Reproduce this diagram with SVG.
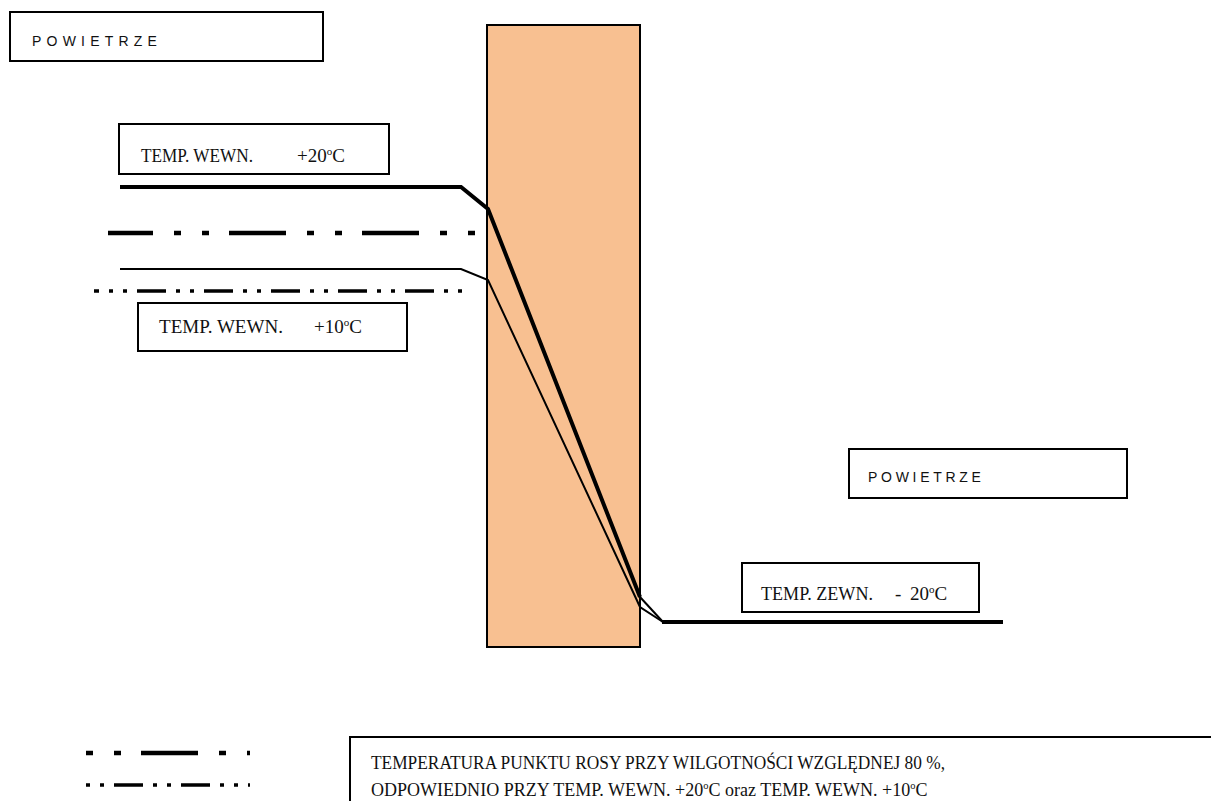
<svg xmlns="http://www.w3.org/2000/svg" width="1211" height="801" viewBox="0 0 1211 801">
<style>
.box{fill:#fff;stroke:#000;stroke-width:2}
.sans{font-family:"Liberation Sans",Arial,sans-serif;font-size:14px;fill:#111}
.serif{font-family:"Liberation Serif","Times New Roman",serif;font-size:19px;fill:#111}
.sup{font-size:11px}
.thick{fill:none;stroke:#000;stroke-width:4}
.thin{fill:none;stroke:#000;stroke-width:2}
.dashA{fill:none;stroke:#000;stroke-width:4.5;stroke-dasharray:57 21 7 21 7 20}
.dashB{fill:none;stroke:#000;stroke-width:3.5;stroke-dasharray:29 10 4 10 4 10}
</style>
<rect width="1211" height="801" fill="#fff"/>
<g id="wall">
<rect x="487" y="25" width="153" height="622" fill="#F8C091" stroke="#000" stroke-width="2"/>
</g>
<g id="air-inside">
<rect class="box" x="10" y="12" width="313" height="49"/>
<text class="sans" x="32" y="45.5" letter-spacing="5.2">POWIETRZE</text>
</g>
<g id="air-outside">
<rect class="box" x="849" y="449" width="278" height="49"/>
<text class="sans" x="868" y="482" letter-spacing="3.7">POWIETRZE</text>
</g>
<g id="temp-in-20">
<rect class="box" x="119" y="124" width="270" height="50"/>
<text class="serif" x="141" y="162" textLength="112" lengthAdjust="spacingAndGlyphs">TEMP. WEWN.</text>
<text class="serif" x="297" y="162" font-size="20">+20<tspan class="sup" dy="-7">o</tspan><tspan dy="7">C</tspan></text>
</g>
<g id="temp-in-10">
<rect class="box" x="138" y="303" width="269" height="48"/>
<text class="serif" x="159" y="333" textLength="124" lengthAdjust="spacingAndGlyphs">TEMP. WEWN.</text>
<text class="serif" x="314" y="333" font-size="20">+10<tspan class="sup" dy="-7">o</tspan><tspan dy="7">C</tspan></text>
</g>
<g id="temp-out">
<rect class="box" x="742" y="563" width="237" height="49"/>
<text class="serif" x="761" y="600" textLength="112" lengthAdjust="spacingAndGlyphs">TEMP. ZEWN.</text>
<text class="serif" x="895" y="600">-</text>
<text class="serif" x="910" y="600" font-size="20">20<tspan class="sup" dy="-7">o</tspan><tspan dy="7">C</tspan></text>
</g>
<g id="connectors">
<path class="thick" d="M120,187 H461 L488,209 L640,597"/>
<path class="thin" d="M640,597 L663,622"/>
<path class="thin" d="M120,269 H461 L488,280 L640,607 L663,622"/>
<path class="thick" d="M662,622 H1003"/>
<path class="dashA" d="M108,233 H478" stroke-dashoffset="12"/>
<path class="dashB" d="M94,291 H463" stroke-dashoffset="24"/>
</g>
<g id="legend">
<path class="dashA" d="M86,753 H250" stroke-dashoffset="78"/>
<path class="dashB" d="M86,785 H250" stroke-dashoffset="39"/>
<rect class="box" x="350" y="737" width="880" height="100"/>
<text class="serif" x="371" y="769" font-size="20" textLength="574" lengthAdjust="spacingAndGlyphs">TEMPERATURA PUNKTU ROSY PRZY WILGOTNOŚCI WZGLĘDNEJ 80 %,</text>
<g transform="translate(371,0) scale(0.949,1) translate(-371,0)">
<text class="serif" x="371" y="796" font-size="20">ODPOWIEDNIO PRZY TEMP. WEWN. +20<tspan class="sup" dy="-7">o</tspan><tspan dy="7">C oraz TEMP. WEWN. +10</tspan><tspan class="sup" dy="-7">o</tspan><tspan dy="7">C</tspan></text>
</g>
</g>
</svg>
